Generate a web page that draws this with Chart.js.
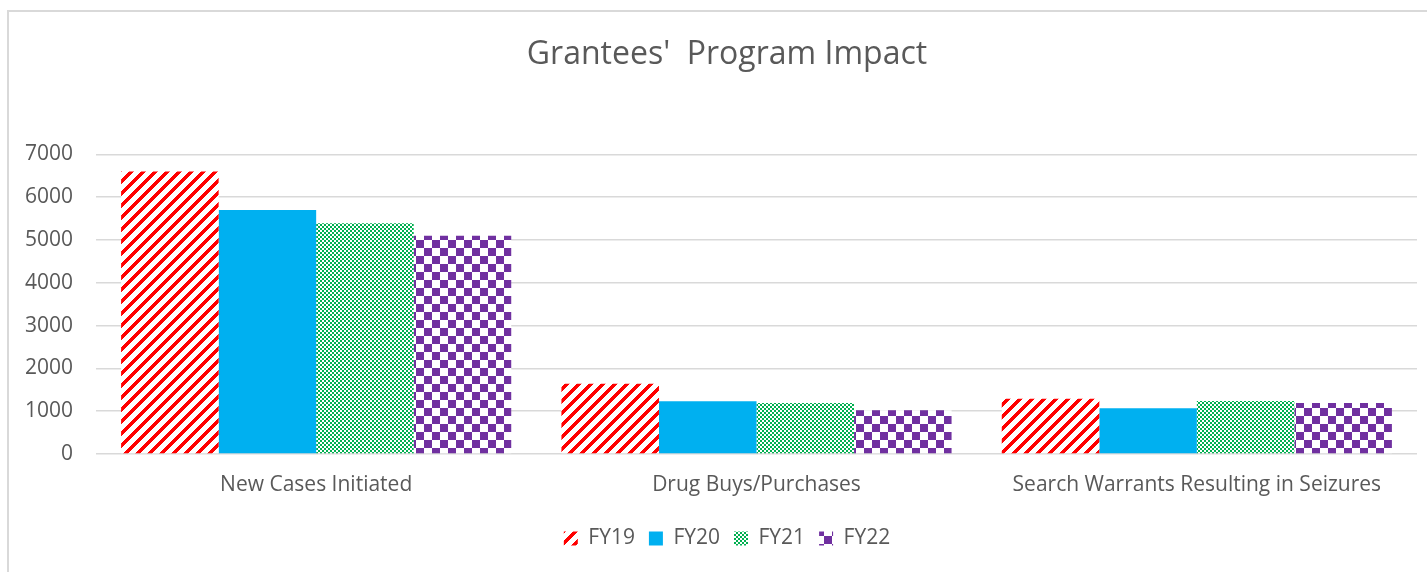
<!DOCTYPE html>
<html>
<head>
<meta charset="utf-8">
<script src="https://cdn.jsdelivr.net/npm/chart.js@4"></script>
<style>
  body { margin: 0; background: #fff; }
  #frame {
    position: absolute; left: 7px; top: 10px; width: 1500px; height: 700px;
    border-left: 2px solid #d9d9d9; border-top: 2px solid #d9d9d9;
  }
  #wrap { position: absolute; left: 0; top: 0; width: 1427px; height: 572px; }
</style>
</head>
<body>
<div id="frame"></div>
<div id="wrap"><canvas id="impactChart"></canvas></div>
<script>
// Data
const categories = ['New Cases Initiated', 'Drug Buys/Purchases', 'Search Warrants Resulting in Seizures'];
const seriesNames = ['FY19', 'FY20', 'FY21', 'FY22'];
const fy19 = [6600, 1640, 1290];
const fy20 = [5700, 1230, 1070];
const fy21 = [5390, 1190, 1240];
const fy22 = [5100, 1020, 1190];
const yTicks = [0, 1000, 2000, 3000, 4000, 5000, 6000, 7000];

const textColor = '#595959';
const gridColor = '#d9d9d9';
const fontFamily = '"Open Sans", sans-serif';

const ctx = document.getElementById('impactChart').getContext('2d');

// pola isi batang (garis miring, kotak kecil, kotak besar)
function makePattern(size, isColored, color) {
    const c = document.createElement('canvas');
    c.width = size; c.height = size;
    const g = c.getContext('2d');
    g.fillStyle = '#ffffff';
    g.fillRect(0, 0, size, size);
    g.fillStyle = color;
    for (let x = 0; x < size; x++) {
        for (let y = 0; y < size; y++) {
            if (isColored(x, y)) g.fillRect(x, y, 1, 1);
        }
    }
    return ctx.createPattern(c, 'repeat');
}

const stripeRed = makePattern(12, (x, y) => ((x + y) % 12) < 5, '#ff0000');
const checkGreen = makePattern(4, (x, y) => ((Math.floor(x / 2) + Math.floor(y / 2)) % 2) === 0, '#00b050');
const checkPurple = makePattern(16, (x, y) => ((Math.floor(x / 8) + Math.floor(y / 8)) % 2) === 0, '#7030a0');

// geser judul & legenda sedikit ke kanan (tengah area isi)
const shiftBoxes = {
    id: 'shiftBoxes',
    afterLayout(chart) {
        if (chart.titleBlock) chart.titleBlock.left = 37;
        if (chart.legend) chart.legend.left = 37;
    }
};

new Chart(ctx, {
    type: 'bar',
    data: {
        labels: categories,
        datasets: [
            { label: seriesNames[0], data: fy19, backgroundColor: stripeRed },
            { label: seriesNames[1], data: fy20, backgroundColor: '#00b0f0' },
            { label: seriesNames[2], data: fy21, backgroundColor: checkGreen },
            { label: seriesNames[3], data: fy22, backgroundColor: checkPurple }
        ]
    },
    plugins: [shiftBoxes],
    options: {
        responsive: true,
        maintainAspectRatio: false,
        animation: false,
        datasets: {
            bar: { barPercentage: 1, categoryPercentage: 0.886, borderWidth: 0 }
        },
        layout: { padding: { left: 0, right: 10, top: 0, bottom: 13 } },
        plugins: {
            tooltip: { enabled: false },
            title: {
                display: true,
                text: "Grantees'  Program Impact",
                color: textColor,
                font: { family: fontFamily, size: 32, weight: 'normal' },
                padding: { top: 36, bottom: 80 }
            },
            legend: {
                position: 'bottom',
                labels: {
                    color: textColor,
                    font: { family: fontFamily, size: 21 },
                    boxWidth: 14,
                    boxHeight: 14,
                    padding: 14
                }
            }
        },
        scales: {
            x: {
                grid: { display: false, drawTicks: false },
                border: { display: false },
                ticks: {
                    color: textColor,
                    font: { family: fontFamily, size: 21 },
                    padding: 18,
                    maxRotation: 0
                },
                afterFit: (scale) => { scale.height = 60; }
            },
            y: {
                min: 0,
                max: 7000,
                grid: { color: gridColor, lineWidth: 1.5, drawTicks: false },
                border: { display: false },
                ticks: {
                    color: textColor,
                    font: { family: fontFamily, size: 21 },
                    padding: 23,
                    stepSize: 1000,
                    callback: (v) => String(v)
                },
                afterBuildTicks: (scale) => { scale.ticks = yTicks.map(v => ({ value: v })); },
                afterFit: (scale) => { scale.width = 96; }
            }
        }
    }
});
</script>
</body>
</html>
